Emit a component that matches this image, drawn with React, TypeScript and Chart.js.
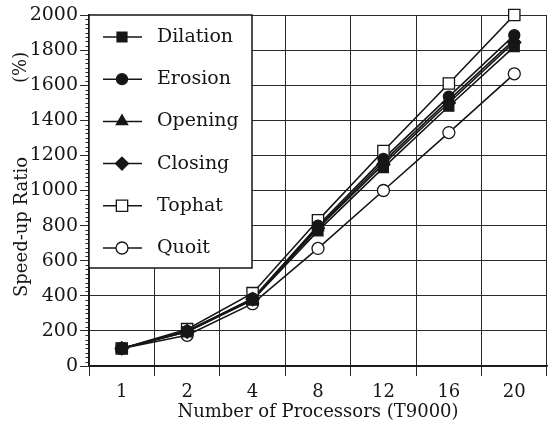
import React, { useEffect, useRef } from "react";
import { Chart, registerables } from "chart.js";

Chart.register(...registerables);

// ---------- data ----------
const processors = ["1", "2", "4", "8", "12", "16", "20"];
const seriesNames = ["Dilation", "Erosion", "Opening", "Closing", "Tophat", "Quoit"];
const dilation = [100, 195, 375, 770, 1130, 1480, 1820];
const erosion = [100, 200, 385, 800, 1180, 1535, 1885];
const opening = [100, 200, 380, 790, 1165, 1515, 1860];
const closing = [100, 195, 380, 785, 1150, 1500, 1845];
const tophat = [100, 210, 415, 830, 1225, 1610, 2000];
const quoit = [100, 175, 355, 670, 1000, 1330, 1665];
const seriesValues = [dilation, erosion, opening, closing, tophat, quoit];

const yMin = 0;
const yMax = 2000;
const yStep = 200;
const yMinorStep = 25;

const xTitle = "Number of Processors (T9000)";
const yTitleMain = "Speed-up Ratio";
const yTitleUnit = "(%)";

// ---------- styles ----------
const INK = "#161616";
const GRID = "#2a2a2a";
const FONT = "'DejaVu Serif', serif";

type Marker = { style: "rect" | "circle" | "triangle" | "rectRot"; radius: number; filled: boolean };
const markers: Marker[] = [
  { style: "rect", radius: 7, filled: true },
  { style: "circle", radius: 5.5, filled: true },
  { style: "triangle", radius: 6.5, filled: true },
  { style: "rectRot", radius: 6.5, filled: true },
  { style: "rect", radius: 8, filled: false },
  { style: "circle", radius: 6, filled: false },
];

function drawMarker(ctx: CanvasRenderingContext2D, m: Marker, x: number, y: number) {
  ctx.save();
  ctx.beginPath();
  const r = m.radius;
  if (m.style === "rect") {
    const s = Math.SQRT1_2 * r;
    ctx.rect(x - s, y - s, 2 * s, 2 * s);
  } else if (m.style === "circle") {
    ctx.arc(x, y, r, 0, Math.PI * 2);
  } else if (m.style === "triangle") {
    ctx.moveTo(x, y - r);
    ctx.lineTo(x + r * 0.87, y + r * 0.5);
    ctx.lineTo(x - r * 0.87, y + r * 0.5);
    ctx.closePath();
  } else {
    ctx.moveTo(x, y - r);
    ctx.lineTo(x + r, y);
    ctx.lineTo(x, y + r);
    ctx.lineTo(x - r, y);
    ctx.closePath();
  }
  ctx.fillStyle = m.filled ? INK : "#ffffff";
  ctx.fill();
  ctx.lineWidth = 1.3;
  ctx.strokeStyle = INK;
  ctx.stroke();
  ctx.restore();
}

const decorPlugin = {
  id: "decor",
  afterDraw(chart: any) {
    const ctx: CanvasRenderingContext2D = chart.ctx;
    const area = chart.chartArea;
    const yScale = chart.scales.y;

    // minor ticks on y axis
    ctx.save();
    ctx.strokeStyle = GRID;
    ctx.lineWidth = 1;
    for (let v = yMin; v <= yMax; v += yMinorStep) {
      if (v % yStep === 0) continue;
      const py = Math.round(yScale.getPixelForValue(v)) + 0.5;
      ctx.beginPath();
      ctx.moveTo(area.left - 3.5, py);
      ctx.lineTo(area.left, py);
      ctx.stroke();
    }
    ctx.restore();

    // y title
    ctx.save();
    ctx.fillStyle = INK;
    ctx.font = `18px ${FONT}`;
    ctx.textBaseline = "middle";
    ctx.textAlign = "left";
    ctx.translate(22, area.bottom - 69);
    ctx.rotate(-Math.PI / 2);
    ctx.fillText(yTitleMain, 0, 0);
    ctx.restore();
    ctx.save();
    ctx.fillStyle = INK;
    ctx.font = `18px ${FONT}`;
    ctx.textBaseline = "middle";
    ctx.textAlign = "left";
    ctx.translate(21, area.top + 68);
    ctx.rotate(-Math.PI / 2);
    ctx.fillText(yTitleUnit, 0, 0);
    ctx.restore();

    // legend box inside plot
    const lx = area.left;
    const ly = area.top;
    const lw = 163;
    const lh = 253;
    ctx.save();
    ctx.fillStyle = "#ffffff";
    ctx.fillRect(lx, ly, lw, lh);
    ctx.strokeStyle = INK;
    ctx.lineWidth = 1.5;
    ctx.strokeRect(lx, ly, lw, lh);
    ctx.font = `19px ${FONT}`;
    ctx.textBaseline = "middle";
    ctx.textAlign = "left";
    chart.data.datasets.forEach((ds: any, i: number) => {
      const yy = ly + 22 + i * 42.2;
      ctx.beginPath();
      ctx.strokeStyle = INK;
      ctx.lineWidth = 1.5;
      ctx.moveTo(lx + 14, yy);
      ctx.lineTo(lx + 53, yy);
      ctx.stroke();
      drawMarker(ctx, markers[i], lx + 33, yy);
      ctx.fillStyle = INK;
      ctx.fillText(ds.label, lx + 68, yy);
    });
    ctx.restore();
  },
};

const pointDrawPlugin = {
  id: "customPoints",
  afterDatasetsDraw(chart: any) {
    const ctx: CanvasRenderingContext2D = chart.ctx;
    const n = chart.data.datasets.length;
    for (let i = n - 1; i >= 0; i--) {
      const meta = chart.getDatasetMeta(i);
      meta.data.forEach((pt: any) => drawMarker(ctx, markers[i], pt.x, pt.y));
    }
  },
};

export default function App() {
  const ref = useRef<HTMLCanvasElement | null>(null);

  useEffect(() => {
    if (!ref.current) return;
    const chart = new Chart(ref.current, {
      type: "line",
      data: {
        labels: processors,
        datasets: seriesNames.map((name, i) => ({
          label: name,
          data: seriesValues[i],
          borderColor: INK,
          borderWidth: 1.6,
          pointRadius: 0,
          fill: false,
          tension: 0,
        })),
      },
      options: {
        responsive: false,
        animation: false,
        layout: { padding: { top: 15, right: 4, left: 0, bottom: 0 } },
        plugins: {
          legend: { display: false },
          tooltip: { enabled: false },
        },
        scales: {
          x: {
            type: "category",
            offset: true,
            grid: { offset: true, color: GRID, lineWidth: 1, drawTicks: true, tickLength: 10 },
            border: { color: INK, width: 1.5 },
            ticks: { color: INK, font: { family: FONT, size: 18 }, padding: 6, maxRotation: 0 },
            title: {
              display: true,
              text: xTitle,
              color: INK,
              font: { family: FONT, size: 18 },
              padding: { top: 0, bottom: 0 },
            },
            afterFit: (s: any) => {
              s.height = 57;
            },
          },
          y: {
            min: yMin,
            max: yMax,
            grid: { color: GRID, lineWidth: 1, drawTicks: true, tickLength: 9 },
            border: { color: INK, width: 1.5 },
            ticks: {
              stepSize: yStep,
              color: INK,
              font: { family: FONT, size: 19 },
              padding: 2,
              callback: (v: any) => String(v),
            },
            afterFit: (s: any) => {
              s.width = 89;
            },
          },
        },
      },
      plugins: [pointDrawPlugin, decorPlugin],
    });
    return () => chart.destroy();
  }, []);

  return (
    <div style={{ position: "absolute", left: 0, top: 0, width: 551, height: 423, background: "#fff" }}>
      <canvas ref={ref} width={551} height={423} style={{ display: "block" }} />
    </div>
  );
}
